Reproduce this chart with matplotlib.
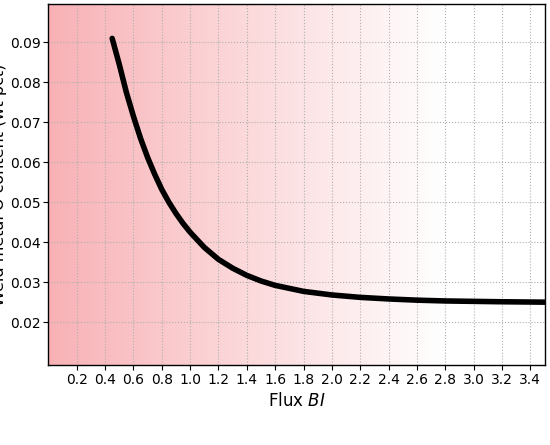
import numpy as np
import matplotlib.pyplot as plt
from matplotlib.colors import LinearSegmentedColormap

bi = [0.45, 0.5, 0.55, 0.6, 0.65, 0.7, 0.75, 0.8, 0.85, 0.9, 0.95, 1.0, 1.1,
      1.2, 1.3, 1.4, 1.5, 1.6, 1.8, 2.0, 2.2, 2.4, 2.6, 2.8, 3.0, 3.2, 3.5]
oxy = [0.091, 0.0845, 0.0775, 0.0715, 0.066, 0.0612, 0.057, 0.0532, 0.0500,
       0.0472, 0.0447, 0.0425, 0.0387, 0.0357, 0.0335, 0.0317, 0.0303,
       0.0292, 0.0277, 0.0268, 0.0262, 0.0258, 0.0255, 0.0253, 0.0252,
       0.0251, 0.0250]
xticks = np.round(np.arange(0.2, 3.41, 0.2), 1)
yticks = [0.02, 0.03, 0.04, 0.05, 0.06, 0.07, 0.08, 0.09]

fig = plt.figure(figsize=(5.5, 4.45), dpi=100)
ax = fig.add_axes([0.088, 0.18, 0.902, 0.81])
xlim = (0.0, 3.5)
ylim = (0.0093, 0.0995)

cmap = LinearSegmentedColormap.from_list(
    "pk", [(0, "#f8b2b6"), (0.4, "#fcd9db"), (0.8, "#ffffff"), (1, "#ffffff")])
grad = np.linspace(0, 1, 256).reshape(1, -1)
ax.imshow(grad, cmap=cmap, aspect="auto", extent=[*xlim, *ylim], zorder=0)

ax.plot(bi, oxy, color="black", lw=4, solid_capstyle="round",
        solid_joinstyle="round", zorder=3)

ax.set_xlim(*xlim)
ax.set_ylim(*ylim)
ax.set_xticks(xticks)
ax.set_xticklabels([f"{v:.1f}" for v in xticks])
ax.set_yticks(yticks)
ax.set_yticklabels([f"{v:.2f}" for v in yticks])
ax.grid(True, ls=":", color="#b0b0b0", lw=0.8, zorder=1)
ax.tick_params(labelsize=10, direction="out", pad=2)
ax.set_xlabel("Flux $\\mathit{BI}$", fontsize=12)
ax.set_ylabel("Weld metal O content (wt pct)", fontsize=11.5, labelpad=2)
for s in ax.spines.values():
    s.set_linewidth(1.0)

fig.savefig("out.png", dpi=100)
